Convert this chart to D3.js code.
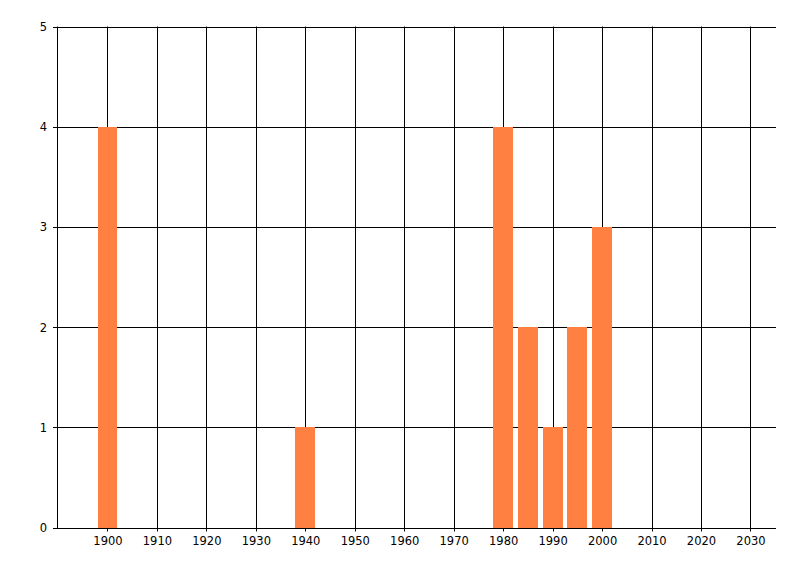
<!DOCTYPE html>
<html>
<head>
<meta charset="utf-8">
<script src="https://cdn.jsdelivr.net/npm/d3@7"></script>
<style>
  body { margin: 0; background: #fff; }
  text { font-family: "DejaVu Sans", sans-serif; font-size: 11.5px; fill: #000; }
</style>
</head>
<body>
<div id="chart"></div>
<script>
// values
const years = [1900, 1940, 1980, 1985, 1990, 1995, 2000];
const counts = [4, 1, 4, 2, 1, 2, 3];
const xTicks = [1900, 1910, 1920, 1930, 1940, 1950, 1960, 1970, 1980, 1990, 2000, 2010, 2020, 2030];
const yTicks = [0, 1, 2, 3, 4, 5];

const width = 800;
const height = 576;

const x = d3.scaleLinear().domain([1890, 2035]).range([58, 775.2]);
const y = d3.scaleLinear().domain([0, 5]).range([527.5, 26.5]);
const barYears = 4;

const svg = d3.select('#chart').append('svg')
    .attr('width', width)
    .attr('height', height);

// vertical grid
svg.append('g')
    .selectAll('line')
    .data(xTicks)
    .join('line')
    .attr('x1', d => Math.round(x(d)) + 0.5)
    .attr('x2', d => Math.round(x(d)) + 0.5)
    .attr('y1', y(5))
    .attr('y2', y(0) + 4)
    .attr('stroke', '#000');

// horizontal grid
svg.append('g')
    .selectAll('line')
    .data(yTicks)
    .join('line')
    .attr('x1', 53)
    .attr('x2', 776)
    .attr('y1', d => Math.round(y(d)) + 0.5)
    .attr('y2', d => Math.round(y(d)) + 0.5)
    .attr('stroke', '#000');

// bars
svg.append('g')
    .selectAll('rect')
    .data(years.map((d, i) => ({ year: d, n: counts[i] })))
    .join('rect')
    .attr('x', d => Math.round(x(d.year - barYears / 2)))
    .attr('width', d => Math.round(x(d.year + barYears / 2)) - Math.round(x(d.year - barYears / 2)))
    .attr('y', d => Math.round(y(d.n)))
    .attr('height', d => Math.round(y(0)) - Math.round(y(d.n)))
    .attr('fill', '#ff8040');

// axis lines
svg.append('line')
    .attr('x1', 57.5).attr('x2', 57.5)
    .attr('y1', y(5)).attr('y2', y(0) + 0.5)
    .attr('stroke', '#000');
svg.append('line')
    .attr('x1', 57).attr('x2', 776)
    .attr('y1', Math.round(y(0)) + 0.5).attr('y2', Math.round(y(0)) + 0.5)
    .attr('stroke', '#000');

// tick labels
svg.append('g')
    .selectAll('text')
    .data(xTicks)
    .join('text')
    .attr('x', d => x(d) + 0.5)
    .attr('y', 545)
    .attr('text-anchor', 'middle')
    .text(d => d);

svg.append('g')
    .selectAll('text')
    .data(yTicks)
    .join('text')
    .attr('x', 47)
    .attr('y', d => y(d) + 4.5)
    .attr('text-anchor', 'end')
    .text(d => d);
</script>
</body>
</html>
